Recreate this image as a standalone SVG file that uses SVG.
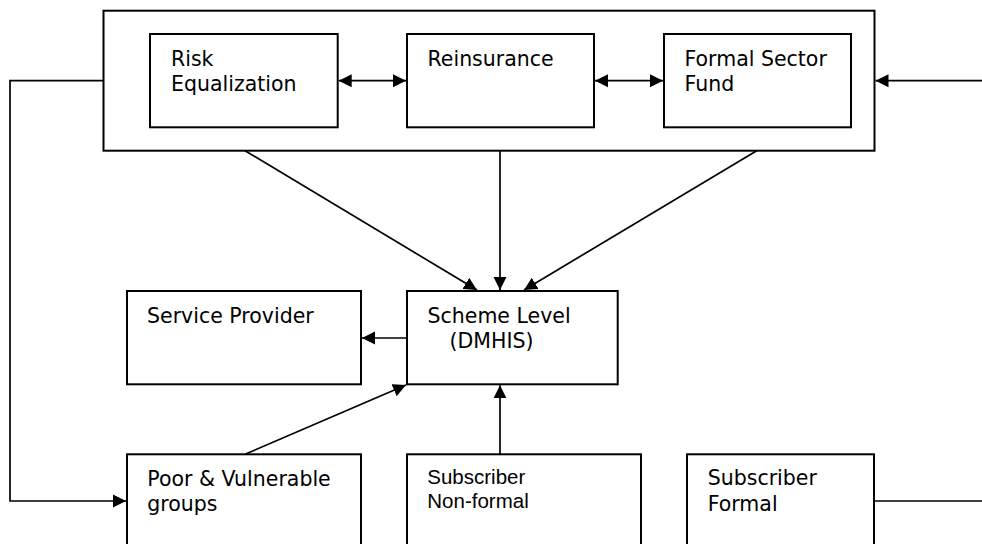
<svg xmlns="http://www.w3.org/2000/svg" width="982" height="544" viewBox="0 0 982 544">
<style>
.box{fill:#fff;stroke:#000;stroke-width:2}
.t{font-family:"DejaVu Sans",Verdana,sans-serif;font-size:20.5px;fill:#000}
.ta{font-family:"Liberation Sans",Arial,sans-serif;font-size:20.5px;fill:#000}
.c{fill:none;stroke:#000;stroke-width:1.7}
</style>
<defs>
<marker id="ah" markerUnits="userSpaceOnUse" markerWidth="14" markerHeight="14" refX="13" refY="7" orient="auto-start-reverse">
<path d="M0,0.5 L13,7 L0,13.5 z" fill="#000"/>
</marker>
</defs>
<rect width="982" height="544" fill="#fff"/>
<g id="outer"><rect class="box" x="103.5" y="10.7" width="771" height="140"/></g>
<g id="risk"><rect class="box" x="150" y="34" width="187.7" height="93.3"/>
<text class="t" x="171" y="66">Risk</text><text class="t" x="171" y="91">Equalization</text></g>
<g id="reinsurance"><rect class="box" x="407" y="34" width="187" height="93.3"/>
<text class="t" x="427.5" y="66">Reinsurance</text></g>
<g id="formal-fund"><rect class="box" x="664" y="34" width="187" height="93.3"/>
<text class="t" x="684.5" y="66">Formal Sector</text><text class="t" x="684.5" y="91">Fund</text></g>
<g id="service"><rect class="box" x="127" y="291" width="234" height="93.3"/>
<text class="t" x="147" y="322.5">Service Provider</text></g>
<g id="scheme"><rect class="box" x="407" y="291" width="210.7" height="93.3"/>
<text class="t" x="427.5" y="322.5">Scheme Level</text><text class="t" x="449.5" y="348.3">(DMHIS)</text></g>
<g id="poor"><rect class="box" x="127" y="454.3" width="234" height="110"/>
<text class="t" x="147.3" y="486">Poor &amp; Vulnerable</text><text class="t" x="147.3" y="510.5">groups</text></g>
<g id="sub-nonformal"><rect class="box" x="407" y="454.3" width="234" height="110"/>
<text class="ta" x="427.3" y="484.3">Subscriber</text><text class="ta" x="427.3" y="508.3">Non-formal</text></g>
<g id="sub-formal"><rect class="box" x="687" y="454.3" width="187" height="110"/>
<text class="t" x="707.7" y="485.3">Subscriber</text><text class="t" x="707.7" y="510.7">Formal</text></g>
<g id="connectors">
<line class="c" x1="338.7" y1="80.7" x2="406" y2="80.7" marker-start="url(#ah)" marker-end="url(#ah)"/>
<line class="c" x1="595" y1="80.7" x2="663" y2="80.7" marker-start="url(#ah)" marker-end="url(#ah)"/>
<line class="c" x1="982" y1="80.7" x2="875.5" y2="80.7" marker-end="url(#ah)"/>
<polyline class="c" points="103,80.7 10,80.7 10,501 126,501" marker-end="url(#ah)"/>
<line class="c" x1="245" y1="150.7" x2="477" y2="290" marker-end="url(#ah)"/>
<line class="c" x1="500" y1="150.7" x2="500" y2="290" marker-end="url(#ah)"/>
<line class="c" x1="756.7" y1="150.7" x2="524" y2="290" marker-end="url(#ah)"/>
<line class="c" x1="407" y1="338" x2="362" y2="338" marker-end="url(#ah)"/>
<line class="c" x1="245" y1="454.3" x2="406" y2="385" marker-end="url(#ah)"/>
<line class="c" x1="500" y1="454.3" x2="500" y2="385.3" marker-end="url(#ah)"/>
<line class="c" x1="874" y1="501" x2="982" y2="501"/>
</g>
</svg>
